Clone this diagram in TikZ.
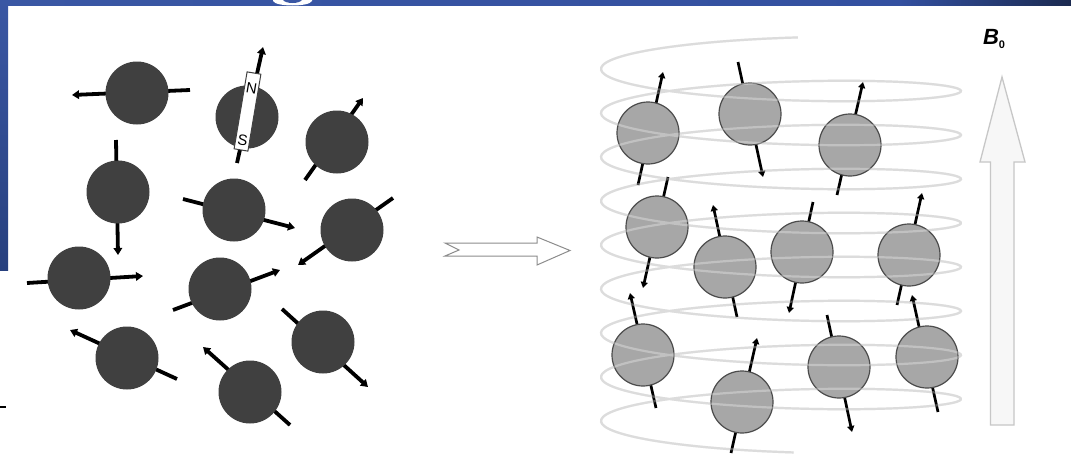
\documentclass[tikz,border=0pt]{standalone}
\usepackage{fontspec}
\setmainfont{Liberation Sans}
\usetikzlibrary{arrows.meta}
\definecolor{ballA}{HTML}{404040}
\definecolor{ballB}{HTML}{A7A7A7}
\definecolor{coilgray}{HTML}{CECECE}
\definecolor{slideblue}{HTML}{3A57A4}
\definecolor{slidemid}{HTML}{3350A0}
\definecolor{slidenavy}{HTML}{1B2A50}
\definecolor{stripdark}{HTML}{27407E}

% dark spin: name, centre, tail end, arrow tip
\newcommand\dspin[4]{%
  \coordinate (#1s) at #3; \coordinate (#1t) at #4;
  \draw[darkspin] (#1s) -- (#1t);
  \node[darkball] (#1) at #2 {};}
% light spin inside the field
\newcommand\lspin[4]{%
  \coordinate (#1s) at #3; \coordinate (#1t) at #4;
  \draw[lightspin] (#1s) -- (#1t);
  \node[lightball] (#1) at #2 {};}

\begin{document}
\begin{tikzpicture}[x=1pt,y=-1pt,
  darkball/.style={circle,fill=ballA,minimum size=63pt,inner sep=0pt},
  lightball/.style={circle,fill=ballB,draw=black!70,line width=1.2pt,minimum size=62pt,inner sep=0pt},
  darkspin/.style={line width=3.8pt,-{Triangle[length=7pt,width=8.5pt]}},
  lightspin/.style={line width=2.7pt,-{Triangle[length=6pt,width=7pt]}},
  coil/.style={coilgray,line width=2.2pt},
  hollow/.style={draw=black!45,fill=white,line width=1pt,line join=miter},
  poles/.style={rotate=-9.6,font=\fontsize{15}{15}\selectfont,inner sep=0pt},
]
\useasboundingbox (0,0) rectangle (1071,463);
\fill[white] (0,0) rectangle (1071,463);

% slide frame: band along the top, strip down the left
\shade[left color=slideblue, right color=slidemid] (0,0) rectangle (900,5);
\shade[left color=slidemid, right color=slidenavy] (899.5,0) rectangle (1071,5);
\fill[white] (273,0) -- (273,1) .. controls (276,7) and (309,7) .. (312,1) -- (312,0) -- cycle;
\fill[slideblue] (283,0) .. controls (286,4) and (299,4) .. (302,0) -- cycle;
\shade[top color=slideblue, bottom color=stripdark] (0,0) rectangle (8,270);
\draw[line width=2pt] (0,407) -- (6,407);

% ---- random orientation (no field) ----
\dspin{L1}{(137,93)}{(190,90)}{(72,95)}
\dspin{L3}{(337,142)}{(305,180)}{(363,98)}
\dspin{L4}{(118,192)}{(116,140)}{(118,255)}
\dspin{L5}{(234,210)}{(183,199)}{(295,228)}
\dspin{L6}{(352,230)}{(393,198)}{(298,265)}
\dspin{L7}{(79,278)}{(27,283)}{(143,276)}
\dspin{L8}{(220,289)}{(173,310)}{(280,270)}
\dspin{L9}{(323,342)}{(282,309)}{(368,387)}
\dspin{L10}{(127,358)}{(177,379)}{(70,330)}
\dspin{L11}{(250,392)}{(290,425)}{(203,347)}
% the spin drawn as a bar magnet
\dspin{L2}{(247,117)}{(237,163)}{(263,47)}
\node[draw=black!75,fill=white,line width=1pt,minimum width=14pt,minimum height=78pt,
      inner sep=0pt,rotate=-9.6] (mag) at (247.5,111.5) {};
\node[poles] (magN) at (251.5,88) {N};
\node[poles] (magS) at (242.7,140) {S};

% ---- hollow transition arrow ----
\draw[hollow] (445,243) -- (537,243) -- (537,237) -- (570,250.5) -- (537,265)
  -- (537,256) -- (445,256) -- (459,250) -- cycle;

% ---- field coil ----
\draw[coil] plot[domain=84.6:3154,samples=600,smooth]
  ({781+180*cos(\x)},{47+\x/360*44-20*sin(\x)});

% ---- aligned spins ----
\lspin{R1}{(648,133)}{(638,185)}{(663,72)}
\lspin{R2}{(750,114)}{(738,62)}{(763,177)}
\lspin{R3}{(850,145)}{(837,195)}{(863,82)}
\lspin{R4}{(657,227)}{(668,177)}{(643,288)}
\lspin{R5}{(725,267)}{(737,317)}{(713,205)}
\lspin{R6}{(802,252)}{(813,202)}{(789,313)}
\lspin{R7}{(909,255)}{(897,305)}{(922,193)}
\lspin{R8}{(643,355)}{(656,408)}{(630,293)}
\lspin{R9}{(742,402)}{(731,453)}{(757,338)}
\lspin{R10}{(839,367)}{(827,315)}{(852,432)}
\lspin{R11}{(927,357)}{(938,412)}{(912,295)}
% coil seen through the spheres
\draw[coil,opacity=0.3,white] plot[domain=84.6:3154,samples=600,smooth]
  ({781+180*cos(\x)},{47+\x/360*44-20*sin(\x)});

% ---- static field B0 ----
\draw[draw=black!22,fill=black!3,line width=1.3pt,line join=miter]
  (1002,77) -- (1025,162) -- (1014,162) -- (1014,425) -- (990.5,425) -- (990.5,162)
  -- (980,162) -- cycle;
\node[inner sep=0pt] (B0) at (994,39)
  {{\fontsize{22}{22}\selectfont\bfseries\itshape B}{\fontsize{11}{11}\selectfont\bfseries\raisebox{-4pt}{0}}};
\end{tikzpicture}
\end{document}
